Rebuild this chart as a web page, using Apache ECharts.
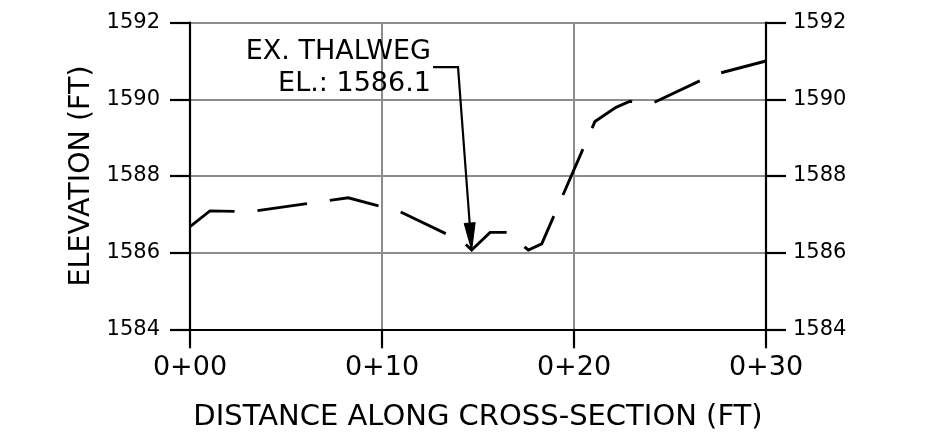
<!DOCTYPE html>
<html><head><meta charset="utf-8">
<script src="https://cdn.jsdelivr.net/npm/echarts@6/dist/echarts.min.js"></script>
<style>html,body{margin:0;padding:0;background:#fff}#c{width:946px;height:446px}</style>
</head><body><div id="c"></div>
<script>
// Ground profile (station in ft along section, elevation in ft)
const stations   = [0, 1.04, 3.13, 8.24, 10.94, 14.22, 14.67, 15.63, 16.51, 17.62, 18.32, 21.09, 22.19, 22.92, 23.96, 27.18, 30];
const elevations = [1586.68, 1587.09, 1587.07, 1587.43, 1587.07, 1586.28, 1586.07, 1586.53, 1586.53, 1586.07, 1586.23, 1589.42, 1589.79, 1589.95, 1589.87, 1590.63, 1591.0];
const xTickLabels = ['0+00', '0+10', '0+20', '0+30'];
const yTickLabels = ['1584', '1586', '1588', '1590', '1592'];
const thalwegStation = 14.67;
const thalwegElev = 1586.07;
const noteLines = ['EX. THALWEG', 'EL.: 1586.1'];
const xTitle = 'DISTANCE ALONG CROSS-SECTION (FT)';
const yTitle = 'ELEVATION (FT)';

const FONT = '"DejaVu Sans", "Noto Sans", sans-serif';
const GRID_GRAY = '#8c8c8c';

const chart = echarts.init(document.getElementById('c'), null, {renderer: 'canvas'});
const profile = stations.map((s, i) => [s, elevations[i]]);

const yAxisCommon = {
  type: 'value', min: 1584, max: 1592, interval: 2,
  axisLine: {show: true, lineStyle: {color: '#000', width: 2.2}},
  axisTick: {show: true, inside: false, length: 20, lineStyle: {color: '#000', width: 2.2}},
  axisLabel: {color: '#000', fontFamily: FONT, fontSize: 21,
    formatter: v => yTickLabels[Math.round((v - 1584) / 2)]}
};

chart.setOption({
  animation: false,
  backgroundColor: '#fff',
  grid: {left: 190, right: 180, top: 22.7, bottom: 116.7, containLabel: false},
  xAxis: {
    type: 'value', min: 0, max: 30, interval: 10,
    axisLine: {show: true, onZero: false, lineStyle: {color: '#000', width: 2.2}},
    axisTick: {show: true, inside: false, length: 19, lineStyle: {color: '#000', width: 2.2}},
    axisLabel: {color: '#000', fontFamily: FONT, fontSize: 27, margin: 25,
      formatter: v => xTickLabels[Math.round(v / 10)]},
    splitLine: {show: true, showMinLine: false, showMaxLine: false, lineStyle: {color: GRID_GRAY, width: 2}},
    name: xTitle, nameLocation: 'middle', nameGap: 74,
    nameTextStyle: {color: '#000', fontFamily: FONT, fontSize: 29}
  },
  yAxis: [
    Object.assign({}, yAxisCommon, {
      position: 'left',
      axisLabel: Object.assign({}, yAxisCommon.axisLabel, {margin: 30}),
      splitLine: {show: true, showMinLine: false, lineStyle: {color: GRID_GRAY, width: 2}},
      name: yTitle, nameLocation: 'middle', nameGap: 94, nameRotate: 90,
      nameTextStyle: {color: '#000', fontFamily: FONT, fontSize: 28.5}
    }),
    Object.assign({}, yAxisCommon, {
      position: 'right',
      axisLabel: Object.assign({}, yAxisCommon.axisLabel, {margin: 27}),
      splitLine: {show: false}
    })
  ],
  series: [{
    type: 'line', data: profile, xAxisIndex: 0, yAxisIndex: 0,
    showSymbol: false, symbol: 'none', smooth: false, clip: false,
    lineStyle: {color: '#000', width: 2.9, type: [50, 23], cap: 'butt', join: 'miter'},
    z: 5
  }]
});

// Annotation: leader from note to thalweg point (anchors in data units)
const px = (x, y) => chart.convertToPixel({xAxisIndex: 0, yAxisIndex: 0}, [x, y]);
const tip = px(thalwegStation, thalwegElev);
const textEnd = px(12.66, 1590.84);
const elbow = px(13.96, 1590.84);
const line1 = px(12.55, 1591.24);
const line2 = px(12.55, 1590.40);
const dx = tip[0] - elbow[0], dy = tip[1] - elbow[1];
const len = Math.sqrt(dx * dx + dy * dy);
const ux = dx / len, uy = dy / len;
const headLen = 27, headHalf = 5.5;
const base = [tip[0] - ux * headLen, tip[1] - uy * headLen];
const nx = -uy, ny = ux;

chart.setOption({
  graphic: [
    {type: 'text', x: line1[0], y: line1[1], z: 10,
      style: {text: noteLines[0], font: '27px ' + FONT, fill: '#000', align: 'right', verticalAlign: 'middle', textAlign: 'right', textVerticalAlign: 'middle'}},
    {type: 'text', x: line2[0], y: line2[1], z: 10,
      style: {text: noteLines[1], font: '27px ' + FONT, fill: '#000', align: 'right', verticalAlign: 'middle', textAlign: 'right', textVerticalAlign: 'middle'}},
    {type: 'polyline', z: 10, shape: {points: [textEnd, elbow, base]},
      style: {stroke: '#000', lineWidth: 2.2, fill: null}},
    {type: 'polygon', z: 10, shape: {points: [
      tip,
      [base[0] + nx * headHalf, base[1] + ny * headHalf],
      [base[0] - nx * headHalf, base[1] - ny * headHalf]
    ]}, style: {fill: '#000', stroke: '#000', lineWidth: 1}}
  ]
});
</script>
</body></html>
